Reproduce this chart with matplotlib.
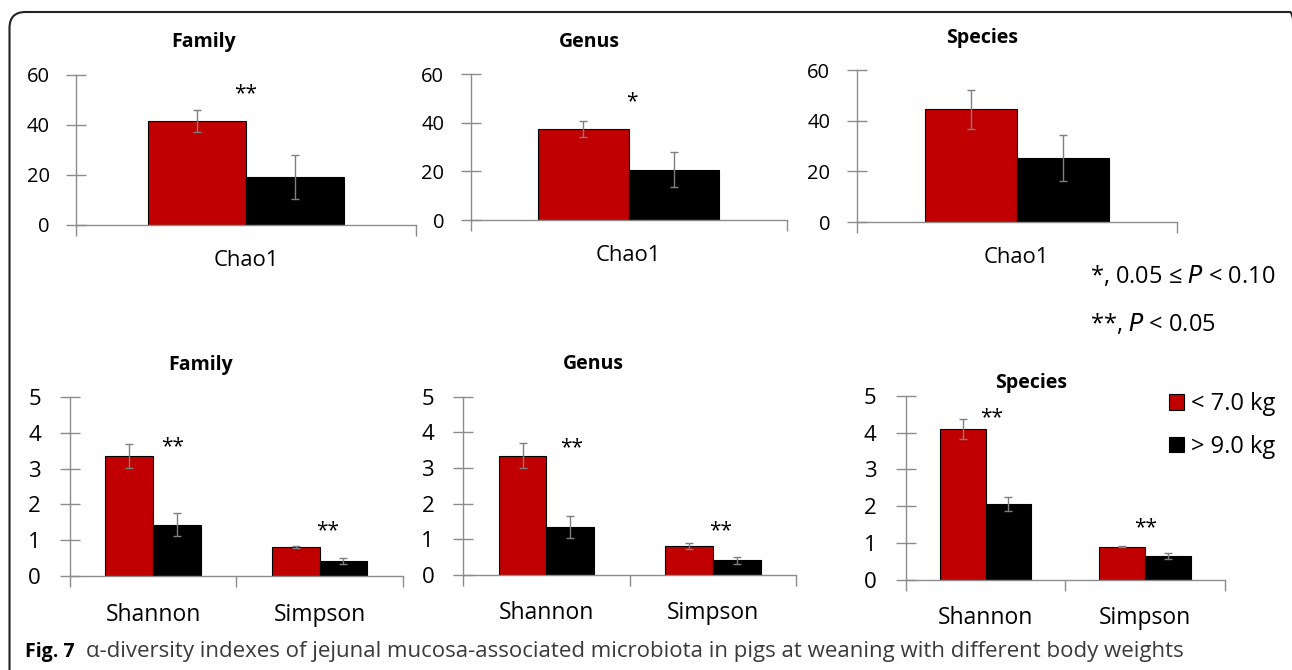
import numpy as np
import matplotlib.pyplot as plt
from matplotlib.patches import FancyBboxPatch

plt.rcParams['font.family'] = ['Open Sans', 'DejaVu Sans']

W, H = 1292, 670

levels = ['Family', 'Genus', 'Species']
groups = ['< 7.0 kg', '> 9.0 kg']
red = '#C00000'
blk = '#000000'
axis_col = '#8c8c8c'

# Chao1 (top row)
chao_low = [41.6, 37.4, 44.6]
chao_low_err = [4.2, 3.4, 7.7]
chao_high = [19.3, 20.7, 25.3]
chao_high_err = [8.7, 7.2, 9.2]
chao_sig = ['**', '*', '']

# Shannon / Simpson (bottom row)
idx_names = ['Shannon', 'Simpson']
shannon_low = [3.35, 3.34, 4.09]
shannon_low_err = [0.33, 0.35, 0.27]
shannon_high = [1.43, 1.34, 2.05]
shannon_high_err = [0.32, 0.31, 0.19]
simpson_low = [0.81, 0.81, 0.90]
simpson_low_err = [0.03, 0.08, 0.01]
simpson_high = [0.42, 0.41, 0.65]
simpson_high_err = [0.08, 0.10, 0.08]
div_sig = ['**', '**']

fig = plt.figure(figsize=(W / 100, H / 100), dpi=100)


def px_axes(x0, x1, ytop, ybot):
    return fig.add_axes([x0 / W, 1 - ybot / H, (x1 - x0) / W, (ybot - ytop) / H])


def style(ax, ncat, ymax, step, tsize, ypad, xpad):
    ax.set_xlim(-0.5, ncat - 0.5)
    ax.set_ylim(0, ymax)
    ax.set_yticks(np.arange(0, ymax + step / 2, step))
    for s in ['top', 'right']:
        ax.spines[s].set_visible(False)
    for s in ['left', 'bottom']:
        ax.spines[s].set_color(axis_col)
        ax.spines[s].set_linewidth(1.0)
    ax.tick_params(axis='y', direction='inout', length=14, width=1.0,
                   color=axis_col, labelsize=tsize, pad=ypad)
    ax.set_xticks(np.arange(-0.5, ncat, 1.0))
    ax.set_xticks(np.arange(ncat), minor=True)
    ax.tick_params(axis='x', which='major', direction='out', length=8,
                   width=1.0, color=axis_col, labelbottom=False)
    ax.tick_params(axis='x', which='minor', length=0, pad=xpad)
    ax.patch.set_alpha(0)


bw = 0.287
ekw = dict(ecolor='#7f7f7f', elinewidth=1.0, capsize=3, capthick=1.0)

# top row
top_pos = [(76, 416, 75, 225), (470.7, 786.7, 74, 220), (856.7, 1176.7, 70, 222)]
top_title = [(204, 42), (589, 42), (982, 38)]
top_sig = [(0.0, 52.5), (0.01, 48.5), (0, 0)]
for i, (x0, x1, yt, yb) in enumerate(top_pos):
    ax = px_axes(x0, x1, yt, yb)
    style(ax, 1, 60, 20, 14.5, 12, 18)
    ax.bar([-bw / 2], [chao_low[i]], bw, yerr=[chao_low_err[i]], color=red,
           edgecolor='black', linewidth=0.8, error_kw=ekw)
    ax.bar([bw / 2], [chao_high[i]], bw, yerr=[chao_high_err[i]], color=blk,
           edgecolor='black', linewidth=0.8, error_kw=ekw)
    ax.set_xticklabels(['Chao1'], minor=True, fontsize=15.8)
    if chao_sig[i]:
        ax.text(top_sig[i][0], top_sig[i][1], chao_sig[i], ha='center',
                va='center', fontsize=15)
    fig.text(top_title[i][0] / W, 1 - top_title[i][1] / H, levels[i],
             ha='center', va='center', fontsize=14, fontweight='bold')

# bottom row
bot_pos = [(70, 402.7, 396.7, 576.3), (463.3, 796, 396.7, 575), (905.7, 1225, 395.7, 580)]
bot_title = [(201, 365), (593, 364), (1031, 383)]
bot_sig = [[(0.117, 3.62), (1.05, 1.27)], [(0.152, 3.57), (1.047, 1.24)],
           [(0.039, 4.39), (1.005, 1.42)]]
ax_last = None
for i, (x0, x1, yt, yb) in enumerate(bot_pos):
    ax = px_axes(x0, x1, yt, yb)
    style(ax, 2, 5, 1, 16, 14, 19)
    lo = [shannon_low[i], simpson_low[i]]
    lo_e = [shannon_low_err[i], simpson_low_err[i]]
    hi = [shannon_high[i], simpson_high[i]]
    hi_e = [shannon_high_err[i], simpson_high_err[i]]
    x = np.arange(2)
    ax.bar(x - bw / 2, lo, bw, yerr=lo_e, color=red, edgecolor='black',
           linewidth=0.8, error_kw=ekw, label=groups[0])
    ax.bar(x + bw / 2, hi, bw, yerr=hi_e, color=blk, edgecolor='black',
           linewidth=0.8, error_kw=ekw, label=groups[1])
    ax.set_xticklabels(idx_names, minor=True, fontsize=16.5)
    for (sx, sy), s in zip(bot_sig[i], div_sig):
        ax.text(sx, sy, s, ha='center', va='center', fontsize=15)
    fig.text(bot_title[i][0] / W, 1 - bot_title[i][1] / H, levels[i],
             ha='center', va='center', fontsize=14, fontweight='bold')
    ax_last = ax

ax_last.legend(loc='upper left', bbox_to_anchor=(1169 / W, 1 - 392 / H),
               bbox_transform=fig.transFigure, frameon=False, fontsize=17,
               handlelength=0.65, handleheight=0.65, handletextpad=0.3,
               labelspacing=0.8, borderpad=0, borderaxespad=0)

fig.text(1090 / W, 1 - 277 / H, '*, 0.05 ≤ $\\it{P}$ < 0.10', fontsize=17,
         va='center', ha='left')
fig.text(1090 / W, 1 - 325 / H, '**, $\\it{P}$ < 0.05', fontsize=17,
         va='center', ha='left')

fig.text(25 / W, 1 - 652 / H, 'Fig. 7', fontsize=14, fontweight='bold',
         va='center', ha='left')
fig.text(86 / W, 1 - 652 / H,
         'α-diversity indexes of jejunal mucosa-associated microbiota in pigs at weaning with different body weights',
         fontsize=16, va='center', ha='left', color='#3a3a3a')

frame = FancyBboxPatch((0.095, -0.5), (1306 - 9.5) / 100, 6.58 + 0.5,
                       boxstyle='round,pad=0,rounding_size=0.16',
                       transform=fig.dpi_scale_trans, facecolor='none',
                       edgecolor='#222222', linewidth=1.5, clip_on=False)
fig.patches.append(frame)

fig.savefig('out.png', dpi=100)
